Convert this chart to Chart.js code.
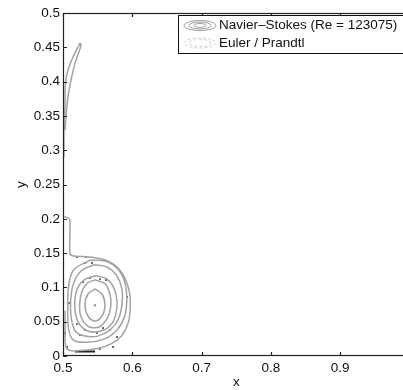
<!DOCTYPE html>
<html>
<head>
<meta charset="utf-8">
<script src="https://cdn.jsdelivr.net/npm/chart.js@4/dist/chart.umd.min.js"></script>
<style>
  html, body { margin: 0; padding: 0; background: #fff; }
  #wrap { width: 403px; height: 390px; overflow: hidden; }
</style>
</head>
<body>
<div id="wrap"><canvas id="flowChart" width="420" height="390"></canvas></div>
<script>
// tick values
const xTicks = [0.5, 0.6, 0.7, 0.8, 0.9, 1.0];
const yTicks = [0, 0.05, 0.1, 0.15, 0.2, 0.25, 0.3, 0.35, 0.4, 0.45, 0.5];

// Navier-Stokes streamlines as [x, y]
const nsCore = [[0.5462, 0.0977], [0.5563, 0.0904], [0.5606, 0.0743], [0.5563, 0.0583], [0.5462, 0.0510],
  [0.5361, 0.0583], [0.5317, 0.0743], [0.5361, 0.0904], [0.5462, 0.0977]];
const nsRing2 = [[0.546, 0.111], [0.561, 0.105], [0.568, 0.089], [0.569, 0.074], [0.565, 0.057], [0.555, 0.044],
  [0.546, 0.041], [0.535, 0.044], [0.526, 0.057], [0.524, 0.074], [0.527, 0.093], [0.535, 0.106], [0.546, 0.111]];
const nsRing3 = [[0.547, 0.117], [0.562, 0.113], [0.573, 0.100], [0.578, 0.080], [0.576, 0.060], [0.568, 0.044],
  [0.553, 0.036], [0.537, 0.036], [0.524, 0.046], [0.518, 0.062], [0.517, 0.080], [0.521, 0.099], [0.532, 0.112], [0.547, 0.117]];
const nsRing4 = [[0.545, 0.133], [0.563, 0.130], [0.577, 0.118], [0.585, 0.098], [0.585, 0.075], [0.580, 0.054],
  [0.568, 0.038], [0.550, 0.029], [0.532, 0.029], [0.518, 0.036], [0.512, 0.055], [0.511, 0.080], [0.515, 0.105],
  [0.526, 0.124], [0.545, 0.133]];
const nsRing5 = [[0.540, 0.140], [0.562, 0.138], [0.579, 0.127], [0.589, 0.108], [0.592, 0.083], [0.589, 0.058],
  [0.578, 0.038], [0.560, 0.025], [0.535, 0.020], [0.515, 0.023], [0.508, 0.040], [0.507, 0.070], [0.508, 0.100],
  [0.515, 0.125], [0.540, 0.140]];
const nsOuter = [[0.500, 0.203], [0.508, 0.201], [0.510, 0.196], [0.510, 0.150], [0.514, 0.146], [0.530, 0.145],
  [0.548, 0.143], [0.566, 0.138], [0.580, 0.128], [0.590, 0.112], [0.596, 0.092], [0.597, 0.070], [0.594, 0.048],
  [0.585, 0.030], [0.570, 0.018], [0.550, 0.011], [0.525, 0.008], [0.510, 0.008], [0.504, 0.014], [0.503, 0.040],
  [0.503, 0.066]];
const nsSliver = [[0.5014, 0.290], [0.5014, 0.340], [0.5029, 0.363], [0.5036, 0.398], [0.5072, 0.417],
  [0.5159, 0.439], [0.5231, 0.453], [0.5245, 0.456], [0.5260, 0.453], [0.5216, 0.439], [0.5173, 0.427],
  [0.5115, 0.402], [0.5072, 0.378], [0.5043, 0.348], [0.5029, 0.329]];

// Euler / Prandtl marks (dark dots on the streamlines)
const eulerDots = [[0.5202, 0.1443], [0.5332, 0.1443], [0.5317, 0.1356], [0.5418, 0.1356], [0.5289, 0.1079],
  [0.5390, 0.1137], [0.5534, 0.1122], [0.5620, 0.1108], [0.5087, 0.0773], [0.5924, 0.0860], [0.5202, 0.0466],
  [0.5317, 0.0379], [0.5577, 0.0408], [0.5678, 0.0379], [0.5029, 0.0335], [0.5245, 0.0306], [0.5491, 0.0335],
  [0.5779, 0.0277], [0.5058, 0.0131], [0.5534, 0.0102], [0.5722, 0.0131]];
const eulerFloor = [[0.5173, 0.0066], [0.5462, 0.0066]];
const vortexCentre = [[0.546, 0.074]];

const legendLabels = ['Navier\u2013Stokes (Re = 123075)', 'Euler / Prandtl'];

const pts = arr => arr.map(p => ({ x: p[0], y: p[1] }));
const FONT = '"Liberation Sans", Arial, sans-serif';
const FSIZE = 13.5;

function nsLine(arr) {
    return {
        data: pts(arr),
        showLine: true,
        borderColor: '#a3a3a3',
        borderWidth: 1.5,
        pointRadius: 0,
        tension: 0.35
    };
}

const frameAndLegend = {
    id: 'frameAndLegend',
    afterDraw(chart) {
        const c = chart.ctx;
        const a = chart.chartArea;
        const xs = chart.scales.x, ys = chart.scales.y;
        c.save();
        c.strokeStyle = '#222';
        c.lineWidth = 1.2;
        c.strokeRect(a.left + 0.5, a.top + 0.5, a.right - a.left - 1, a.bottom - a.top - 1);
        c.beginPath();
        xTicks.forEach(v => {
            const px = Math.round(xs.getPixelForValue(v)) + 0.5;
            c.moveTo(px, a.bottom); c.lineTo(px, a.bottom - 4);
            c.moveTo(px, a.top); c.lineTo(px, a.top + 4);
        });
        yTicks.forEach(v => {
            const py = Math.round(ys.getPixelForValue(v)) + 0.5;
            c.moveTo(a.left, py); c.lineTo(a.left + 4, py);
            c.moveTo(a.right, py); c.lineTo(a.right - 4, py);
        });
        c.stroke();

        // legend box
        c.lineWidth = 1;
        c.fillStyle = '#fff';
        c.fillRect(178, 15, 260, 38);
        c.strokeStyle = '#111';
        c.strokeRect(178.5, 15.5, 260, 38);

        c.strokeStyle = '#a0a0a0';
        [[16, 5], [11, 3.5], [6, 2]].forEach(r => {
            c.beginPath(); c.ellipse(200, 25.5, r[0], r[1], 0, 0, Math.PI * 2); c.stroke();
        });
        c.strokeStyle = '#d4d4d4';
        c.setLineDash([3, 2]);
        [[16, 5], [11, 3.5]].forEach(r => {
            c.beginPath(); c.ellipse(200, 43, r[0], r[1], 0, 0, Math.PI * 2); c.stroke();
        });
        c.setLineDash([]);

        c.fillStyle = '#111';
        c.font = FSIZE + 'px ' + FONT;
        c.textBaseline = 'middle';
        c.fillText(legendLabels[0], 219, 25);
        c.fillText(legendLabels[1], 219, 43);
        c.restore();
    }
};

new Chart(document.getElementById('flowChart'), {
    type: 'scatter',
    data: {
        datasets: [
            nsLine(nsOuter),
            nsLine(nsRing5),
            nsLine(nsRing4),
            nsLine(nsRing3),
            nsLine(nsRing2),
            nsLine(nsCore),
            nsLine(nsSliver),
            {
                data: pts(vortexCentre),
                pointRadius: 1.2,
                pointBackgroundColor: '#999',
                pointBorderWidth: 0
            },
            {
                data: pts(eulerDots),
                pointRadius: 0.9,
                pointBackgroundColor: '#222',
                pointBorderWidth: 0
            },
            {
                data: pts(eulerFloor),
                showLine: true,
                borderColor: '#222',
                borderWidth: 2,
                pointRadius: 0
            }
        ]
    },
    options: {
        responsive: false,
        animation: false,
        layout: { padding: { top: 13, right: 10.5, left: 0, bottom: 0 } },
        plugins: {
            legend: { display: false },
            tooltip: { enabled: false }
        },
        scales: {
            x: {
                type: 'linear',
                min: 0.5,
                max: 1.0,
                afterFit: s => { s.height = 34; },
                afterBuildTicks: s => { s.ticks = xTicks.map(v => ({ value: v })); },
                grid: { display: false, drawTicks: false },
                border: { display: false },
                ticks: {
                    padding: 4,
                    color: '#111',
                    font: { family: FONT, size: FSIZE },
                    callback: v => String(parseFloat(v.toFixed(2)))
                },
                title: {
                    display: true,
                    text: 'x',
                    color: '#111',
                    padding: { top: 0, bottom: 0 },
                    font: { family: FONT, size: FSIZE }
                }
            },
            y: {
                type: 'linear',
                min: 0,
                max: 0.5,
                afterFit: s => { s.width = 63; },
                afterBuildTicks: s => { s.ticks = yTicks.map(v => ({ value: v })); },
                grid: { display: false, drawTicks: false },
                border: { display: false },
                ticks: {
                    padding: 3,
                    color: '#111',
                    font: { family: FONT, size: FSIZE },
                    callback: v => String(parseFloat(v.toFixed(2)))
                },
                title: {
                    display: true,
                    text: 'y',
                    color: '#111',
                    padding: { top: 13, bottom: 0 },
                    font: { family: FONT, size: FSIZE }
                }
            }
        }
    },
    plugins: [frameAndLegend]
});
</script>
</body>
</html>
